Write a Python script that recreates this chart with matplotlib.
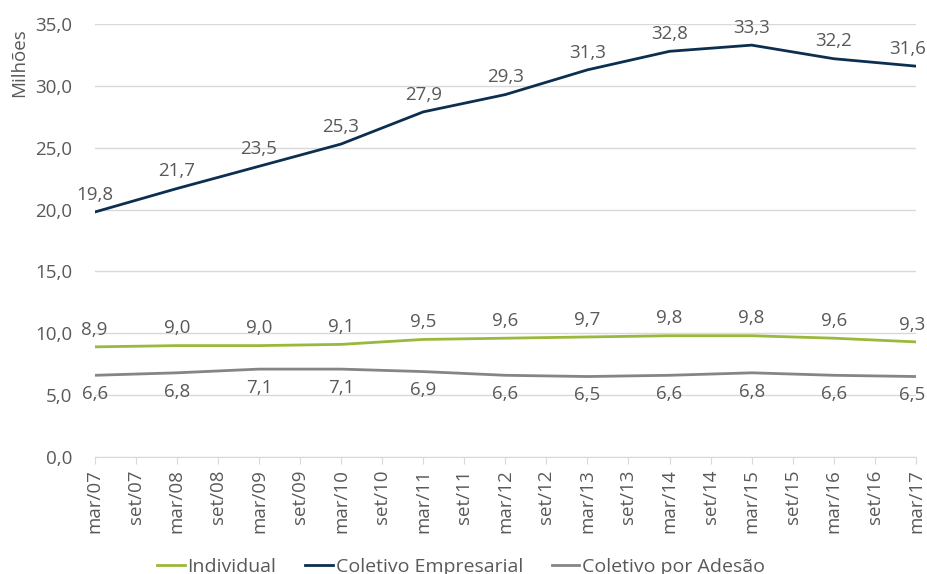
import numpy as np
import matplotlib
matplotlib.use("Agg")
import matplotlib.pyplot as plt

plt.rcParams["font.family"] = ["Open Sans", "DejaVu Sans"]

# x tick labels (half-year steps), data only on "mar" points
tick_labels = []
for yr in range(7, 18):
    tick_labels.append("mar/%02d" % yr)
    if yr < 17:
        tick_labels.append("set/%02d" % yr)
years = ["mar/%02d" % yr for yr in range(7, 18)]

individual = [8.9, 9.0, 9.0, 9.1, 9.5, 9.6, 9.7, 9.8, 9.8, 9.6, 9.3]
empresarial = [19.8, 21.7, 23.5, 25.3, 27.9, 29.3, 31.3, 32.8, 33.3, 32.2, 31.6]
adesao = [6.6, 6.8, 7.1, 7.1, 6.9, 6.6, 6.5, 6.6, 6.8, 6.6, 6.5]

c_ind = "#9ab83c"
c_emp = "#0d2f4f"
c_ade = "#858585"
txt = "#595959"

x = np.array([tick_labels.index(y) for y in years])

fig = plt.figure(figsize=(9.28, 5.74), dpi=100)
ax = fig.add_axes([0.102, 0.204, 0.885, 0.754])

ax.plot(x, individual, color=c_ind, lw=2.0, label="Individual")
ax.plot(x, empresarial, color=c_emp, lw=2.0, label="Coletivo Empresarial")
ax.plot(x, adesao, color=c_ade, lw=2.0, label="Coletivo por Adesão")

def fmt(v):
    return ("%.1f" % v).replace(".", ",")

def put_labels(vals, dy, va):
    for i, (xi, v) in enumerate(zip(x, vals)):
        # last label kept inside the figure, as Excel does
        if i == len(vals) - 1:
            ax.annotate(fmt(v), (xi, v), xytext=(7, dy), textcoords="offset points",
                        ha="right", va=va, fontsize=13.5, color=txt)
        else:
            ax.annotate(fmt(v), (xi, v), xytext=(0, dy), textcoords="offset points",
                        ha="center", va=va, fontsize=13.5, color=txt)

put_labels(empresarial, 6, "bottom")
put_labels(individual, 6, "bottom")
put_labels(adesao, -7, "top")

ax.set_xlim(0, len(tick_labels) - 1)
ax.set_ylim(0, 35)
ax.set_yticks(np.arange(0, 36, 5))
ax.set_yticklabels([fmt(v) for v in np.arange(0, 36, 5)], fontsize=13.5, color=txt)
ax.set_xticks(range(len(tick_labels)))
ax.set_xticklabels(tick_labels, rotation=90, fontsize=13.5, color=txt)
ax.tick_params(axis="y", length=0, pad=16)
ax.tick_params(axis="x", length=5, color="#d9d9d9", pad=4)
ax.grid(axis="y", color="#d9d9d9", lw=1)
ax.set_axisbelow(True)
for s in ["top", "right", "left"]:
    ax.spines[s].set_visible(False)
ax.spines["bottom"].set_color("#d9d9d9")

fig.text(19 / 928, 1 - 63 / 574, "Milhões", rotation=90, fontsize=13.5,
         color=txt, ha="center", va="center")

fig.legend(loc="center", bbox_to_anchor=(0.497, 0.012), ncol=3, frameon=False,
           fontsize=14, handlelength=1.4, handletextpad=0.15, columnspacing=1.5,
           labelcolor=txt)

plt.savefig("out.png", dpi=100)
